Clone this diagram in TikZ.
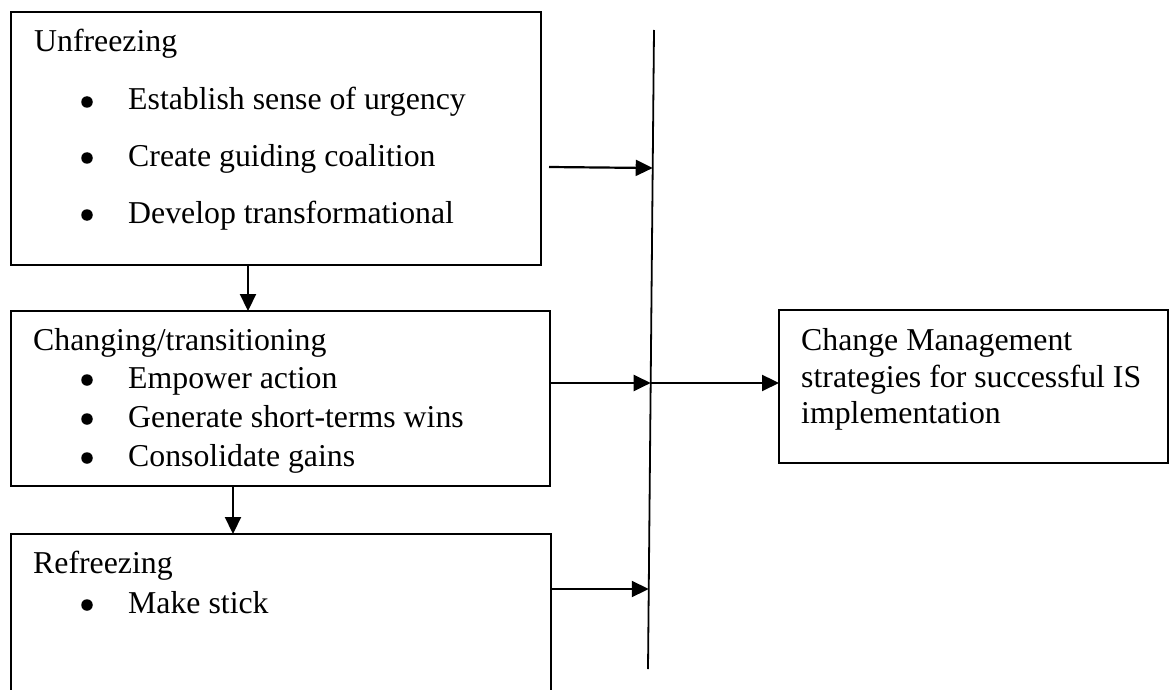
\documentclass[tikz,border=0pt]{standalone}
\usepackage{fontspec}
\setmainfont{Liberation Serif}
\usetikzlibrary{arrows.meta,calc}
\begin{document}
\begin{tikzpicture}[x=1pt,y=-1pt,
  box/.style={draw, line width=2pt, inner sep=0pt, outer sep=0pt, anchor=north west},
  txt/.style={anchor=base west, inner sep=0pt, font=\fontsize{31.8}{38}\selectfont},
  bul/.style={circle, fill, draw=none, inner sep=0pt, minimum size=11.5pt},
  conn/.style={line width=2.2pt, -{Triangle[length=17pt,width=16pt]}},
  vline/.style={line width=1.8pt}
]
\useasboundingbox (0,0) rectangle (1170,690);

% boxes
\node[box, minimum width=530pt, minimum height=253pt] (b1) at (11,12) {};
\node[box, minimum width=539pt, minimum height=175pt] (b2) at (11,311) {};
\node[box, minimum width=540pt, minimum height=200pt] (b3) at (11,534) {};
\node[box, minimum width=389pt, minimum height=153pt] (b4) at (779,310) {};

% box 1 text
\node[txt] (t1) at (34,52) {Unfreezing};
\node[bul] (u1) at (87,102) {};
\node[txt] (t11) at (128,110) {Establish sense of urgency};
\node[bul] (u2) at (87,158) {};
\node[txt] (t12) at (128,166) {Create guiding coalition};
\node[bul] (u3) at (87,215) {};
\node[txt] (t13) at (128,223) {Develop transformational};

% box 2 text
\node[txt] (t2) at (33,350) {Changing/transitioning};
\node[bul] (v1) at (87,380) {};
\node[txt] (t21) at (128,388) {Empower action};
\node[bul] (v2) at (87,419) {};
\node[txt] (t22) at (128,427) {Generate short-terms wins};
\node[bul] (v3) at (87,458) {};
\node[txt] (t23) at (128,466) {Consolidate gains};

% box 3 text
\node[txt] (t3) at (33,573) {Refreezing};
\node[bul] (w1) at (87,605) {};
\node[txt] (t31) at (128,613) {Make stick};

% box 4 text
\node[txt] (t41) at (801,350) {Change Management};
\node[txt] (t42) at (801,387) {strategies for successful IS};
\node[txt] (t43) at (801,423) {implementation};

% vertical line
\coordinate (vt) at (654,30);
\coordinate (vb) at (648,669);
\draw[vline] (vt) -- (vb);

\coordinate (p1) at ($(vt)!0.216!(vb)$);
\coordinate (p2) at ($(vt)!0.5524!(vb)$);
\coordinate (p3) at ($(vt)!0.8748!(vb)$);
\coordinate (s1) at (549,167);

\draw[conn] (s1) -- (p1);
\draw[conn] (b2.east |- p2) -- (p2);
\draw[conn] (b3.east |- p3) -- (p3);
\draw[conn] (p2) -- (b4.west |- p2);

% down arrows
\coordinate (d1) at (248,0);
\coordinate (d2) at (233,0);
\draw[conn] (b1.south -| d1) -- (b2.north -| d1);
\draw[conn] (b2.south -| d2) -- (b3.north -| d2);
\end{tikzpicture}
\end{document}
